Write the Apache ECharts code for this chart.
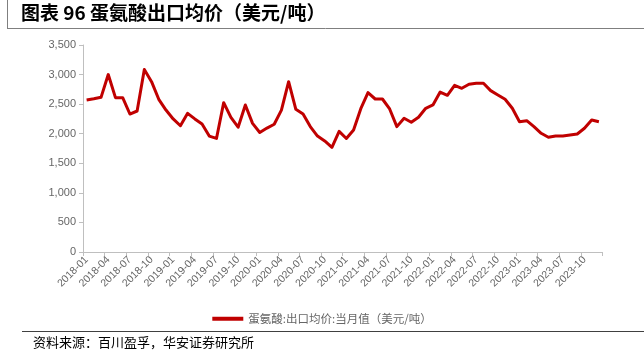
<!DOCTYPE html>
<html>
<head>
<meta charset="utf-8">
<script src="https://cdn.jsdelivr.net/npm/echarts@6/dist/echarts.min.js"></script>
<style>
html,body{margin:0;padding:0;background:#fff;}
#chart{width:644px;height:362px;}
</style>
</head>
<body>
<div id="chart"></div>
<script>
var titleText = '图表 96 蛋氨酸出口均价（美元/吨）';
var seriesName = '蛋氨酸:出口均价:当月值（美元/吨）';
var sourceText = '资料来源：百川盈孚，华安证券研究所';

var categories = [];
var years = [2018, 2019, 2020, 2021, 2022, 2023];
years.forEach(function (y) {
  for (var m = 1; m <= 12; m++) categories.push(y + '-' + (m < 10 ? '0' + m : '' + m));
});

var values2018 = [2570, 2590, 2615, 3000, 2610, 2610, 2333, 2384, 3085, 2880, 2582, 2400];
var values2019 = [2250, 2135, 2345, 2250, 2165, 1960, 1920, 2525, 2275, 2110, 2485, 2175];
var values2020 = [2020, 2095, 2160, 2400, 2880, 2413, 2333, 2120, 1960, 1877, 1770, 2040];
var values2021 = [1920, 2063, 2423, 2694, 2587, 2587, 2418, 2120, 2261, 2193, 2278, 2430];
var values2022 = [2486, 2705, 2650, 2819, 2768, 2836, 2853, 2853, 2728, 2655, 2582, 2430];
var values2023 = [2203, 2220, 2119, 2007, 1940, 1961, 1961, 1978, 1995, 2092, 2232, 2203];
var values = [].concat(values2018, values2019, values2020, values2021, values2022, values2023);

var chart = echarts.init(document.getElementById('chart'), null, {renderer: 'canvas'});
var axisGray = '#bfbfbf';
var labelGray = '#666666';
chart.setOption({
  animation: false,
  backgroundColor: '#fff',
  grid: {left: 83, right: 41.5, top: 45, bottom: 110, containLabel: false},
  legend: {
    data: [seriesName],
    top: 308,
    left: 'center',
    icon: 'rect',
    itemWidth: 31,
    itemHeight: 4,
    itemGap: 4,
    textStyle: {fontFamily: 'Noto Sans CJK SC', fontSize: 11.5, color: labelGray}
  },
  xAxis: {
    type: 'category',
    data: categories,
    boundaryGap: true,
    axisLine: {lineStyle: {color: axisGray, width: 1}},
    axisTick: {show: true, interval: 2, length: 4, lineStyle: {color: axisGray}},
    axisLabel: {
      interval: 2, rotate: 45, fontSize: 10.5, color: labelGray,
      fontFamily: 'Liberation Sans, Arial', margin: 6
    }
  },
  yAxis: {
    type: 'value',
    min: 0, max: 3500, interval: 500,
    axisLine: {show: true, lineStyle: {color: axisGray, width: 1}},
    axisTick: {show: true, length: 4, lineStyle: {color: axisGray}},
    splitLine: {show: false},
    axisLabel: {
      fontSize: 11, color: labelGray, fontFamily: 'Liberation Sans, Arial', margin: 7,
      formatter: function (v) { return v.toLocaleString('en-US'); }
    }
  },
  series: [{
    name: seriesName,
    type: 'line',
    data: values,
    showSymbol: false,
    symbol: 'none',
    lineStyle: {color: '#C00000', width: 3, join: 'round'},
    itemStyle: {color: '#C00000'}
  }],
  graphic: [
    {type: 'line', shape: {x1: 7.5, y1: 0, x2: 7.5, y2: 28}, style: {stroke: '#7f7f7f', lineWidth: 1}},
    {type: 'line', shape: {x1: 7, y1: 28.5, x2: 644, y2: 28.5}, style: {stroke: '#7f7f7f', lineWidth: 1}},
    {type: 'text', left: 21, top: 3, style: {text: titleText, font: 'bold 19px "Noto Sans CJK SC"', fill: '#000'}},
    {type: 'line', shape: {x1: 22, y1: 331.5, x2: 644, y2: 331.5}, style: {stroke: '#404040', lineWidth: 1}},
    {type: 'text', left: 33, top: 336, style: {text: sourceText, font: '13px "Noto Sans CJK SC"', fill: '#000'}}
  ]
});
</script>
</body>
</html>
